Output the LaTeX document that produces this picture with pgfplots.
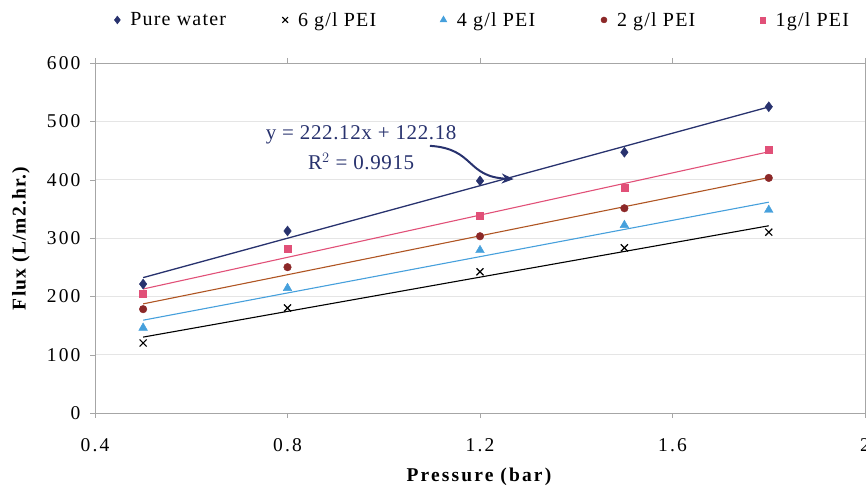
\documentclass[border=0pt]{standalone}
\usepackage{fontspec}
\setmainfont{Liberation Serif}
\newfontfamily\spaced{Liberation Serif}[LetterSpace=11]
\newfontfamily\lspaced{Liberation Serif}[LetterSpace=6]
\newfontfamily\aspaced{Liberation Serif}[LetterSpace=3]
\usepackage{pgfplots}
\usepackage{pgfplotstable}
\pgfplotsset{compat=1.18}
\usetikzlibrary{arrows.meta}

\definecolor{navy}{RGB}{40,50,110}
\definecolor{lblue}{RGB}{70,160,220}
\definecolor{dred}{RGB}{140,40,40}
\definecolor{brownline}{RGB}{175,85,35}
\definecolor{pink}{RGB}{225,80,120}

\pgfplotstableread{
x pure six four two one
0.5 221 120 146 178 204
0.8 312 180 214 250 281
1.2 398 242 279 303 338
1.5 447 283 322 351 386
1.8 525 310 348 403 451
}\data

\begin{document}
\begin{tikzpicture}
\useasboundingbox (0,0) rectangle (866pt,489pt);
\begin{axis}[
  at={(95pt,76pt)}, anchor=south west,
  width=770pt, height=350pt, scale only axis,
  xmin=0.4, xmax=2, ymin=0, ymax=600,
  xtick={0.4,0.8,1.2,1.6,2}, xticklabels={0.4,0.8,1.2,1.6,2},
  ytick={0,100,200,300,400,500,600},
  yticklabels={0,100,200,300,400,500,600},
  tick align=outside, major tick length=5pt,
  tick style={gray!70},
  axis line style={gray!70},
  ymajorgrids, major grid style={gray!20},
  ticklabel style={font=\spaced\fontsize{19.5}{22}\selectfont},
  xticklabel style={yshift=-17pt},
  yticklabel style={xshift=-6pt},
  xlabel={\textbf{Pressure (bar)}},
  ylabel={\textbf{Flux (L/m2.hr.)}},
  xlabel style={font=\spaced\fontsize{19.5}{22}\selectfont, at={(axis description cs:0.5,0)}, anchor=center, yshift=-64pt},
  ylabel style={font=\lspaced\fontsize{19.5}{22}\selectfont, at={(axis description cs:0,0.5)}, anchor=center, yshift=74pt},
  legend columns=5,
  legend style={draw=none, fill=none, at={(0.021,1.123)}, anchor=west,
    font=\lspaced\fontsize{20}{23}\selectfont,
    /tikz/every odd column/.append style={column sep=8pt}},
  legend image post style={scale=0.8},
  legend cell align=left,
]
\addplot[only marks, mark=diamond*, mark size=5pt, color=navy] table[x=x,y=pure] {\data};
\addlegendentry{\makebox[150pt][l]{Pure water}}
\addplot[only marks, mark=x, mark size=5pt, line width=1.2pt, color=black] table[x=x,y=six] {\data};
\addlegendentry{\makebox[140pt][l]{6 g/l PEI}}
\addplot[only marks, mark=triangle*, mark size=5pt, color=lblue] table[x=x,y=four] {\data};
\addlegendentry{\makebox[142pt][l]{4 g/l PEI}}
\addplot[only marks, mark=*, mark size=3.8pt, color=dred] table[x=x,y=two] {\data};
\addlegendentry{\makebox[141pt][l]{2 g/l PEI}}
\addplot[only marks, mark=square*, mark size=3.5pt, color=pink] table[x=x,y=one] {\data};
\addlegendentry{1g/l PEI}

\addplot[forget plot, no marks, navy, line width=1.3pt] table[x=x,y={create col/linear regression={y=pure}}] {\data};
\addplot[forget plot, no marks, black, line width=1.1pt] table[x=x,y={create col/linear regression={y=six}}] {\data};
\addplot[forget plot, no marks, lblue, line width=1.1pt] table[x=x,y={create col/linear regression={y=four}}] {\data};
\addplot[forget plot, no marks, brownline, line width=1.1pt] table[x=x,y={create col/linear regression={y=two}}] {\data};
\addplot[forget plot, no marks, pink, line width=1.1pt] table[x=x,y={create col/linear regression={y=one}}] {\data};

\node[navy, align=center, font=\aspaced\fontsize{21}{30}\selectfont] at (axis cs:0.953,454)
  {y = 222.12x + 122.18\\R$^{2}$ = 0.9915};
\draw[navy, line width=2pt, -{Stealth[length=12pt,width=10pt]}]
  (axis cs:1.096,458) .. controls (axis cs:1.19,453) and (axis cs:1.17,405) .. (axis cs:1.27,401);
\end{axis}
\end{tikzpicture}
\end{document}
